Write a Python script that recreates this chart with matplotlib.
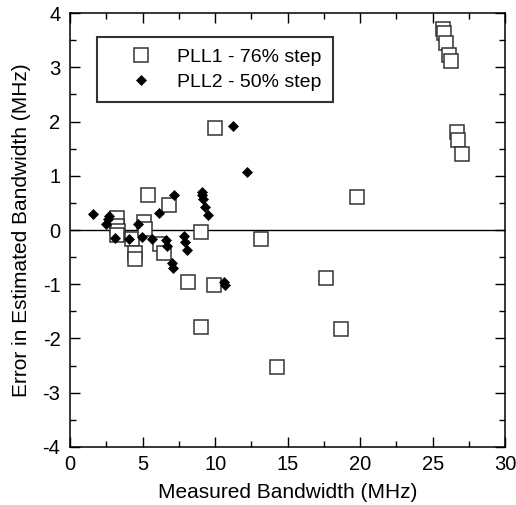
import numpy as np
import matplotlib
matplotlib.use('Agg')
import matplotlib.pyplot as plt
from matplotlib.ticker import MultipleLocator

plt.rcParams['font.family'] = ['Liberation Sans', 'DejaVu Sans']
plt.rcParams['axes.unicode_minus'] = False

# PLL1 - 76% step (open squares)
pll1_x = [3.2, 3.2, 3.3, 3.2, 4.25, 4.5, 4.5, 5.1, 5.15, 5.4, 6.2, 6.45, 6.8,
          8.1, 9.05, 9.0, 9.95, 10.0, 13.15, 14.25, 17.65, 18.7, 19.75,
          25.7, 25.75, 25.9, 26.15, 26.25, 26.65, 26.75, 27.0]
pll1_y = [0.22, 0.08, -0.02, -0.10, -0.16, -0.42, -0.53, 0.15, 0.02, 0.65, -0.25, -0.42, 0.47,
          -0.95, -0.03, -1.78, -1.02, 1.88, -0.16, -2.53, -0.88, -1.82, 0.60,
          3.70, 3.63, 3.45, 3.23, 3.11, 1.81, 1.66, 1.40]

# PLL2 - 50% step (filled diamonds)
pll2_x = [1.6, 2.45, 2.6, 2.7, 3.1, 4.05, 4.65, 4.95, 5.65, 6.15, 6.6, 6.7, 7.0,
          7.1, 7.15, 7.85, 7.95, 8.05, 9.1, 9.12, 9.17, 9.33, 9.5, 10.6, 10.65,
          11.25, 12.2]
pll2_y = [0.30, 0.12, 0.20, 0.25, -0.15, -0.16, 0.11, -0.13, -0.16, 0.31, -0.18, -0.29, -0.60,
          -0.70, 0.64, -0.11, -0.22, -0.37, 0.70, 0.64, 0.57, 0.42, 0.28, -0.95, -1.01,
          1.92, 1.07]

fig = plt.figure(figsize=(5.16, 5.05), dpi=100)
ax = fig.add_axes([0.136, 0.115, 0.843, 0.859])

ax.axhline(0, color='black', lw=1.0, zorder=1)
ax.plot(pll1_x, pll1_y, 's', ms=10, mfc='white', mec='#333333', mew=1.1,
        label='PLL1 - 76% step', zorder=2)
ax.plot(pll2_x, pll2_y, 'D', ms=5.5, mfc='black', mec='black', mew=0.5,
        label='PLL2 - 50% step', zorder=3)

ax.set_xlim(0, 30)
ax.set_ylim(-4, 4)
ax.xaxis.set_major_locator(MultipleLocator(5))
ax.xaxis.set_minor_locator(MultipleLocator(2.5))
ax.yaxis.set_major_locator(MultipleLocator(1))
ax.yaxis.set_minor_locator(MultipleLocator(0.5))
ax.tick_params(which='both', direction='in', top=True, right=True, width=1.0,
               labelsize=14.5)
ax.tick_params(axis='x', pad=6)
ax.tick_params(axis='y', pad=7)
ax.tick_params(which='major', length=7)
ax.tick_params(which='minor', length=4)
for s in ax.spines.values():
    s.set_linewidth(1.1)

ax.set_xlabel('Measured Bandwidth (MHz)', fontsize=15, labelpad=6)
ax.set_ylabel('Error in Estimated Bandwidth (MHz)', fontsize=15, labelpad=8)

leg = ax.legend(loc='upper left', bbox_to_anchor=(0.062, 0.945), borderaxespad=0,
                fancybox=False, frameon=True, edgecolor='black', fontsize=14,
                handletextpad=0.2, borderpad=0.6, labelspacing=0.35, handlelength=3.3)
leg.get_frame().set_linewidth(1.5)

fig.savefig('out.png', dpi=100)
